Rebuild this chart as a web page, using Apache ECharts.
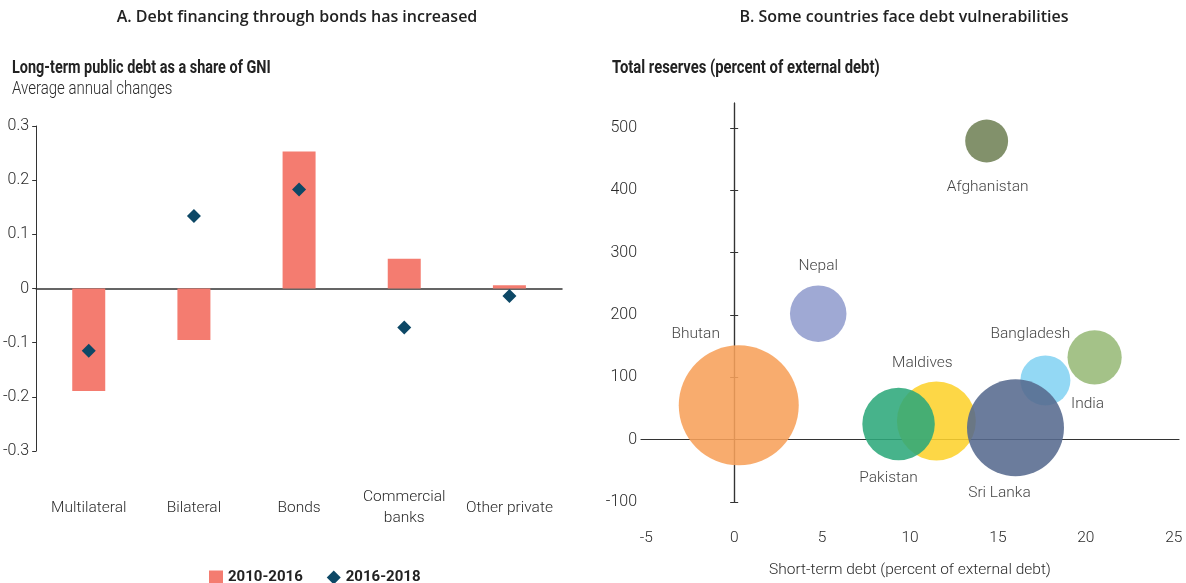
<!DOCTYPE html>
<html>
<head>
<meta charset="UTF-8">
<title></title>
<style>
  html, body { margin: 0; padding: 0; background: #fff; }
  #main { width: 1186px; height: 583px; }
</style>
</head>
<body>
<div id="main"></div>
<script type="text/javascript" src="https://cdn.jsdelivr.net/npm/echarts@6/dist/echarts.min.js"></script>
<script type="text/javascript">
  // panel A - debt by creditor
  var creditors = ['Multilateral', 'Bilateral', 'Bonds', 'Commercial\nbanks', 'Other private'];
  var change2010to2016 = [-0.189, -0.095, 0.253, 0.055, 0.006];
  var change2016to2018 = [-0.115, 0.134, 0.183, -0.072, -0.014];

  // panel B - bubbles
  var countries = ['Bhutan', 'Nepal', 'Afghanistan', 'India', 'Bangladesh', 'Maldives', 'Pakistan', 'Sri Lanka'];
  var shortTermDebt = [0.26, 4.78, 14.36, 20.5, 17.7, 11.5, 9.35, 16.0];
  var totalReserves = [55, 202, 479, 132, 95, 30, 25, 19];
  var bubbleValue = [100, 22.2, 12.8, 20.4, 17.4, 43.3, 36.5, 65.3];

  var COND = "Roboto, 'Liberation Sans Narrow', sans-serif";
  var HEAD = "'Open Sans', 'Noto Sans', sans-serif";
  var ink = '#2a2a2a';

  var bubbleColors = {
    'Bhutan': '#f7a05a', 'Nepal': '#929dce', 'Afghanistan': '#718256', 'India': '#97b977',
    'Bangladesh': '#84d3f3', 'Maldives': '#fdd22c', 'Pakistan': '#2da97b', 'Sri Lanka': '#566a8e'
  };
  var labelOffsets = {
    'Bhutan': [-43, -71], 'Nepal': [0, -48], 'Afghanistan': [1, 46], 'India': [-7, 47],
    'Bangladesh': [-15, -46], 'Maldives': [-14, -58], 'Pakistan': [-10, 54], 'Sri Lanka': [-16, 65]
  };

  var bubbles = [];
  for (var i = 0; i < countries.length; i++) {
    bubbles.push({
      name: countries[i],
      value: [shortTermDebt[i], totalReserves[i], bubbleValue[i]],
      itemStyle: { color: bubbleColors[countries[i]], opacity: 0.88 },
      label: { offset: labelOffsets[countries[i]] }
    });
  }

  var myChart = echarts.init(document.getElementById('main'));
  var option = {
    animation: false,
    graphic: [
      { type: 'text', x: 297, y: 17, style: { text: 'A. Debt financing through bonds has increased', align: 'center', verticalAlign: 'middle', fontFamily: HEAD, fontSize: 16, fontWeight: 600, fill: '#222' } },
      { type: 'text', x: 904, y: 17, style: { text: 'B. Some countries face debt vulnerabilities', align: 'center', verticalAlign: 'middle', fontFamily: HEAD, fontSize: 16, fontWeight: 600, fill: '#222' } },
      { type: 'text', x: 12, y: 68, scaleX: 0.76, style: { text: 'Long-term public debt as a share of GNI', verticalAlign: 'middle', fontFamily: COND, fontSize: 19, fontWeight: 'bold', fill: '#222' } },
      { type: 'text', x: 12, y: 89, scaleX: 0.79, style: { text: 'Average annual changes', verticalAlign: 'middle', fontFamily: COND, fontSize: 19, fontWeight: 300, fill: ink } },
      { type: 'text', x: 612, y: 68, scaleX: 0.78, style: { text: 'Total reserves (percent of external debt)', verticalAlign: 'middle', fontFamily: COND, fontSize: 19, fontWeight: 'bold', fill: '#222' } }
    ],
    legend: {
      left: 204,
      top: 565,
      itemWidth: 14,
      itemHeight: 14,
      itemGap: 24,
      textStyle: { fontFamily: COND, fontSize: 15, fontWeight: 'bold', color: '#222' },
      data: [{ name: '2010-2016', icon: 'rect' }, { name: '2016-2018', icon: 'diamond' }]
    },
    grid: [
      { left: 36, right: 624, top: 126, bottom: 132 },
      { left: 641, right: 7, top: 103, bottom: 78 }
    ],
    xAxis: [
      {
        gridIndex: 0, type: 'category', data: creditors, position: 'bottom',
        axisLine: { show: false, onZero: false }, axisTick: { show: false },
        axisLabel: { interval: 0, margin: 57, verticalAlign: 'middle', lineHeight: 21, fontFamily: COND, fontWeight: 300, fontSize: 15.5, color: ink }
      },
      {
        gridIndex: 0, type: 'category', data: creditors, position: 'top',
        axisLine: { onZero: true, onZeroAxisIndex: 0, lineStyle: { color: '#333', width: 1.5 } },
        axisTick: { show: false }, axisLabel: { show: false }
      },
      {
        gridIndex: 1, type: 'value', min: -5.3, max: 25.3, position: 'bottom',
        splitLine: { show: false }, axisLine: { show: false, onZero: false }, axisTick: { show: false },
        axisLabel: { customValues: [-5, 0, 5, 10, 15, 20, 25], margin: 28, fontFamily: COND, fontWeight: 300, fontSize: 15.5, color: ink },
        name: 'Short-term debt (percent of external debt)', nameLocation: 'middle', nameGap: 60,
        nameTextStyle: { fontFamily: COND, fontWeight: 300, fontSize: 15.5, color: ink }
      },
      {
        gridIndex: 1, type: 'value', min: -5.3, max: 25.3, position: 'top',
        splitLine: { show: false }, axisLine: { onZero: true, onZeroAxisIndex: 1, lineStyle: { color: '#333', width: 1.2 } },
        axisTick: { show: false }, axisLabel: { show: false }
      }
    ],
    yAxis: [
      {
        gridIndex: 0, type: 'value', min: -0.3, max: 0.3, interval: 0.1,
        splitLine: { show: false },
        axisLine: { show: true, lineStyle: { color: '#333' } },
        axisTick: { show: true, length: 4, lineStyle: { color: '#333' } },
        axisLabel: { margin: 7, fontFamily: COND, fontWeight: 300, fontSize: 16, color: ink, formatter: function (v) { return Math.round(v * 10) / 10 + ''; } }
      },
      {
        gridIndex: 1, type: 'value', min: -100, max: 540, position: 'left',
        splitLine: { show: false }, axisLine: { show: false, onZero: false }, axisTick: { show: false },
        axisLabel: { customValues: [-100, 0, 100, 200, 300, 400, 500], margin: 4, fontFamily: COND, fontWeight: 300, fontSize: 16, color: ink }
      },
      {
        gridIndex: 1, type: 'value', min: -100, max: 540, position: 'left',
        splitLine: { show: false },
        axisLine: { onZero: true, onZeroAxisIndex: 2, lineStyle: { color: '#333', width: 1.2 } },
        axisTick: { customValues: [-100, 0, 100, 200, 300, 400, 500], length: 4, lineStyle: { color: '#333' } },
        axisLabel: { show: false }
      },
      {
        gridIndex: 1, type: 'value', min: -100, max: 540, position: 'right',
        splitLine: { show: false },
        axisLine: { onZero: true, onZeroAxisIndex: 2, lineStyle: { color: '#333', width: 1.2 } },
        axisTick: { customValues: [-100, 0, 100, 200, 300, 400, 500], length: 4, lineStyle: { color: '#333' } },
        axisLabel: { show: false }
      }
    ],
    series: [
      {
        name: '2010-2016', type: 'bar', xAxisIndex: 0, yAxisIndex: 0,
        barWidth: 33, itemStyle: { color: '#f47c70' },
        data: change2010to2016
      },
      {
        name: '2016-2018', type: 'scatter', xAxisIndex: 0, yAxisIndex: 0,
        symbol: 'diamond', symbolSize: 14, itemStyle: { color: '#0d4866', opacity: 1 }, z: 3,
        data: change2016to2018
      },
      {
        name: 'bubbles', type: 'scatter', xAxisIndex: 2, yAxisIndex: 1,
        symbolSize: function (val) { return 12 * Math.sqrt(val[2]); },
        label: {
          show: true, position: 'inside', formatter: '{b}',
          fontFamily: COND, fontWeight: 300, fontSize: 15.5, color: ink
        },
        emphasis: { disabled: true },
        data: bubbles
      }
    ]
  };
  myChart.setOption(option);
</script>
</body>
</html>
